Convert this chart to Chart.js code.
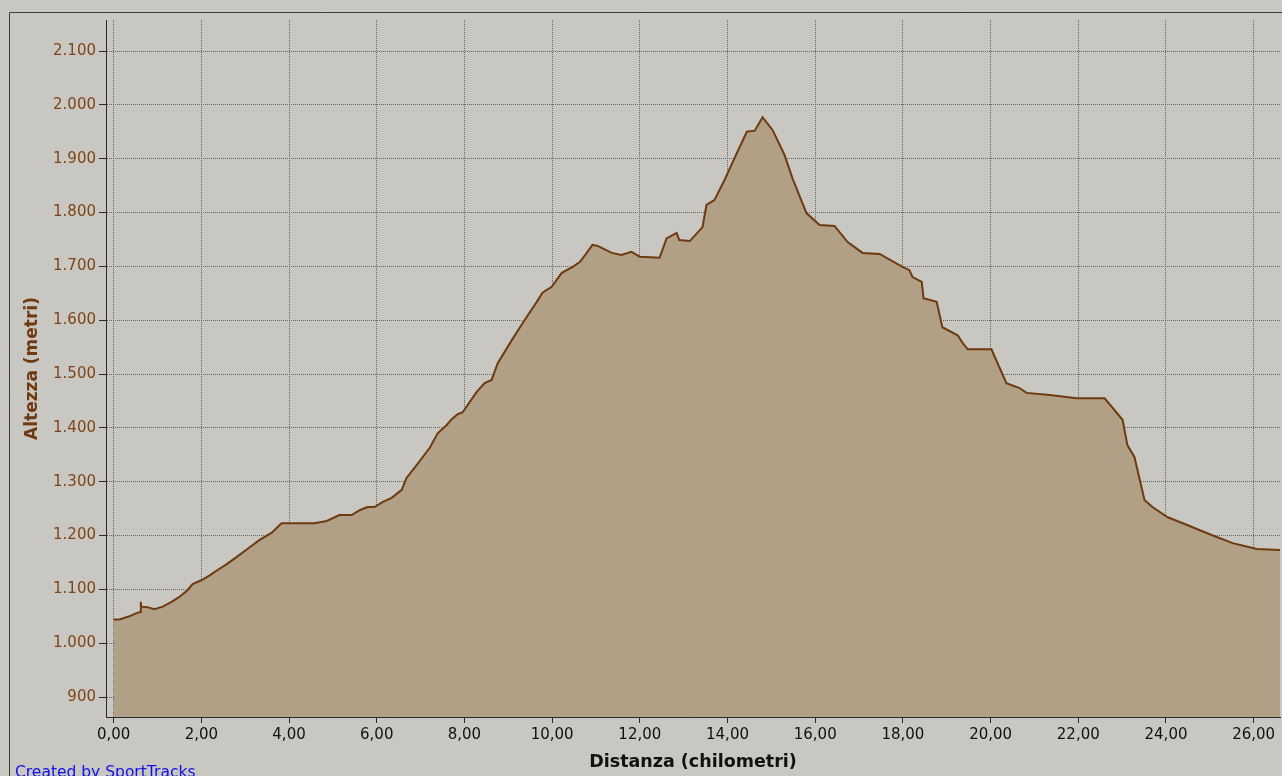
<!DOCTYPE html>
<html>
<head>
<meta charset="utf-8">
<script src="https://cdn.jsdelivr.net/npm/chart.js@4/dist/chart.umd.min.js"></script>
<style>
    html, body { margin: 0; padding: 0; background: #c9c7c1; }
    #profileChart { display: block; }
</style>
</head>
<body>
<canvas id="profileChart" width="1282" height="776"></canvas>
<script>
// Elevation profile
const distanceKm = [
    0, 0.13, 0.36, 0.52, 0.61, 0.62, 0.63, 0.77, 0.93, 1.12,
    1.32, 1.5, 1.69, 1.8, 2.0, 2.19, 2.37, 2.58, 2.8, 3.05,
    3.33, 3.6, 3.83, 4.58, 4.86, 5.15, 5.43, 5.61, 5.79, 5.95,
    6.13, 6.34, 6.57, 6.68, 6.91, 7.21, 7.39, 7.59, 7.71, 7.84,
    7.96, 8.28, 8.46, 8.62, 8.76, 9.08, 9.37, 9.65, 9.78, 9.99,
    10.22, 10.47, 10.63, 10.79, 10.92, 11.04, 11.36, 11.58, 11.81, 12.0,
    12.45, 12.61, 12.84, 12.9, 13.14, 13.43, 13.52, 13.7, 13.93, 14.16,
    14.44, 14.62, 14.8, 15.03, 15.3, 15.48, 15.8, 16.1, 16.44, 16.74,
    17.08, 17.47, 17.99, 18.15, 18.22, 18.43, 18.47, 18.77, 18.9, 19.25,
    19.36, 19.48, 20.02, 20.36, 20.66, 20.82, 21.35, 21.96, 22.6, 23.01,
    23.12, 23.28, 23.51, 23.69, 24.04, 24.47, 25.04, 25.52, 26.07, 26.6
];
const altitudeM = [
    1044, 1044, 1050, 1056, 1058, 1077, 1068, 1067, 1063, 1068,
    1077, 1086, 1099, 1110, 1117, 1126, 1136, 1147, 1160, 1175,
    1192, 1205, 1223, 1223, 1227, 1238, 1238, 1247, 1253, 1253,
    1262, 1270, 1285, 1307, 1331, 1363, 1390, 1405, 1416, 1425,
    1429, 1467, 1483, 1489, 1520, 1563, 1600, 1634, 1651, 1662,
    1688, 1699, 1708, 1725, 1740, 1738, 1725, 1721, 1727, 1718,
    1716, 1752, 1762, 1749, 1747, 1773, 1814, 1823, 1860, 1901,
    1950, 1952, 1977, 1953, 1907, 1864, 1799, 1777, 1775, 1745,
    1725, 1723, 1699, 1693, 1680, 1671, 1641, 1634, 1587, 1572,
    1558, 1546, 1546, 1483, 1474, 1465, 1461, 1455, 1455, 1415,
    1368, 1346, 1266, 1253, 1234, 1220, 1201, 1186, 1175, 1173
];
const xTickValues = [0, 2, 4, 6, 8, 10, 12, 14, 16, 18, 20, 22, 24, 26];
const yTickValues = [900, 1000, 1100, 1200, 1300, 1400, 1500, 1600, 1700, 1800, 1900, 2000, 2100];
const xTitle = 'Distanza (chilometri)';
const yTitle = 'Altezza (metri)';
const creditText = 'Created by SportTracks';

const FONT = '"DejaVu Sans", Verdana, sans-serif';

// Italian number formats: 2.100 and 12,00
function formatMeters(v) {
    return Math.round(v).toString().replace(/\B(?=(\d{3})+(?!\d))/g, '.');
}
function formatKm(v) {
    return v.toFixed(2).replace('.', ',');
}

// Window background, outer frame and credit line
const framePlugin = {
    id: 'frame',
    beforeDraw(chart) {
        const ctx = chart.ctx;
        ctx.save();
        ctx.fillStyle = '#c9c7c1';
        ctx.fillRect(0, 0, chart.width, chart.height);
        ctx.restore();
    },
    afterDraw(chart) {
        const ctx = chart.ctx;
        ctx.save();
        ctx.strokeStyle = '#3c3c3c';
        ctx.lineWidth = 1;
        ctx.beginPath();
        ctx.moveTo(9.5, chart.height);
        ctx.lineTo(9.5, 12.5);
        ctx.lineTo(chart.width, 12.5);
        ctx.stroke();
        ctx.fillStyle = '#1010e8';
        ctx.font = '15.5px ' + FONT;
        ctx.textBaseline = 'alphabetic';
        ctx.fillText(creditText, 15, 777);
        ctx.restore();
    }
};

const points = distanceKm.map((d, i) => ({ x: d, y: altitudeM[i] }));

const ctx = document.getElementById('profileChart').getContext('2d');
const profileChart = new Chart(ctx, {
    type: 'line',
    data: {
        datasets: [{
            data: points,
            borderColor: '#6e3a10',
            borderWidth: 2,
            backgroundColor: '#b1a086',
            fill: 'start',
            pointRadius: 0,
            tension: 0
        }]
    },
    options: {
        responsive: false,
        animation: false,
        layout: { padding: { top: 20, right: 2, left: 0, bottom: 0 } },
        plugins: {
            legend: { display: false },
            tooltip: { enabled: false }
        },
        scales: {
            x: {
                type: 'linear',
                min: -0.174,
                max: 26.6,
                afterBuildTicks: axis => { axis.ticks = xTickValues.map(v => ({ value: v })); },
                afterFit: axis => { axis.height = 59; },
                ticks: {
                    callback: v => formatKm(v),
                    color: '#111111',
                    font: { family: FONT, size: 15 },
                    padding: 3,
                    maxRotation: 0,
                    autoSkip: false
                },
                grid: {
                    color: '#666666',
                    lineWidth: 1,
                    tickLength: 6,
                    tickColor: '#2a2a2a'
                },
                border: { display: true, color: '#2a2a2a', width: 1, dash: [1, 1] },
                title: {
                    display: true,
                    text: xTitle,
                    color: '#111111',
                    font: { family: FONT, size: 17.5, weight: 'bold' },
                    padding: { top: 0, bottom: 3 }
                }
            },
            y: {
                min: 863,
                max: 2157.6,
                afterBuildTicks: axis => { axis.ticks = yTickValues.map(v => ({ value: v })); },
                afterFit: axis => { axis.width = 106; },
                ticks: {
                    callback: v => formatMeters(v),
                    color: '#7e4519',
                    font: { family: FONT, size: 15 },
                    padding: 3,
                    autoSkip: false
                },
                grid: {
                    color: '#666666',
                    lineWidth: 1,
                    tickLength: 7,
                    tickColor: '#2a2a2a'
                },
                border: { display: true, color: '#2a2a2a', width: 1, dash: [1, 1] },
                title: {
                    display: true,
                    text: yTitle,
                    color: '#6e3a12',
                    font: { family: FONT, size: 17, weight: 'bold' },
                    padding: { top: 22, bottom: 0 }
                }
            }
        }
    },
    plugins: [framePlugin]
});
</script>
</body>
</html>
